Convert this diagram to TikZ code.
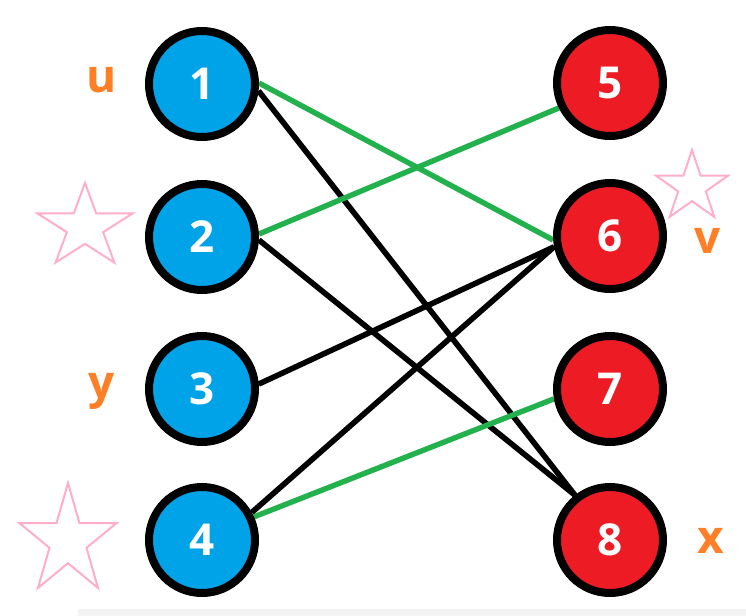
\documentclass[tikz,border=0pt]{standalone}
\usepackage{fontspec}
\setmainfont{Open Sans}
\pgfdeclarelayer{background}
\pgfdeclarelayer{edges}
\pgfsetlayers{background,edges,main}
\definecolor{nblue}{RGB}{0,162,232}
\definecolor{nred}{RGB}{237,28,36}
\definecolor{egreen}{RGB}{34,177,76}
\definecolor{lorange}{RGB}{255,127,39}
\definecolor{spink}{RGB}{255,174,201}
\definecolor{strip}{RGB}{243,243,243}
\tikzset{
  vert/.style={circle, draw=black, line width=4pt, minimum size=53pt, inner sep=0pt,
    text=white, font=\fontsize{22}{22}\selectfont\bfseries},
  leftv/.style={vert, fill=nblue},
  rightv/.style={vert, fill=nred},
  gedge/.style={draw=egreen, line width=2.7pt},
  bedge/.style={draw=black, line width=2.8pt},
  lbl/.style={anchor=base, text=lorange, inner sep=0pt, font=\fontsize{23}{23}\selectfont\bfseries},
  starline/.style={draw=spink, line width=1pt, line join=miter}
}
\newcommand{\mystar}[4]{%
  \draw[starline, shift={(#1,#2)}, xscale=#3, yscale=-#4]
    (90:1) -- (126:0.382) -- (162:1) -- (198:0.382) -- (234:1) -- (270:0.382)
    -- (306:1) -- (342:0.382) -- (18:1) -- (54:0.382) -- cycle;}
\begin{document}
\begin{tikzpicture}[x=0.5pt,y=-0.5pt]
\begin{pgfonlayer}{background}
\fill[white] (0,0) rectangle (746,616);
\fill[strip] (78,609) rectangle (746,616);
\end{pgfonlayer}
\useasboundingbox (0,0) rectangle (746,616);

\node[leftv] (n1) at (202,84) {1};
\node[leftv] (n2) at (202,237) {2};
\node[leftv] (n3) at (202,389) {3};
\node[leftv] (n4) at (202,540) {4};
\node[rightv] (n5) at (610,83) {5};
\node[rightv] (n6) at (610,236) {6};
\node[rightv] (n7) at (610,389) {7};
\node[rightv] (n8) at (610,540) {8};

\begin{pgfonlayer}{edges}
\path[bedge] (n1.-7) -- (n8.128);
\path[bedge] (n2.-3) -- (n8.128);
\path[bedge] (n3.5) -- (n6.191);
\path[bedge] (n4.29) -- (n6.191);
\path[gedge] (n1.1) -- (n6.184);
\path[gedge] (n2.3) -- (n5.-154);
\path[gedge] (n4.24) -- (n7.190);
\end{pgfonlayer}

\node[lbl] (lu) at (102,92) {u};
\node[lbl] (ly) at (102,398) {y};
\node[lbl] (lv) at (708,253) {v};
\node[lbl] (lx) at (711,553) {x};

\mystar{85}{227}{50}{44}
\mystar{68}{541}{51}{58}
\mystar{692}{187}{38}{37}
\end{tikzpicture}
\end{document}
